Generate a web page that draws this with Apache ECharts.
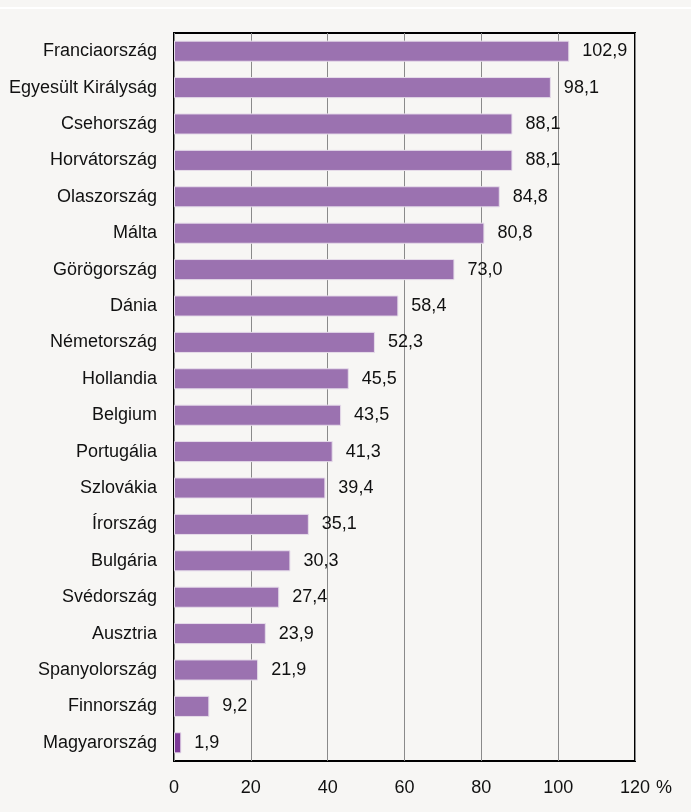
<!DOCTYPE html>
<html>
<head>
<meta charset="utf-8">
<script src="https://cdn.jsdelivr.net/npm/echarts@6/dist/echarts.min.js"></script>
<style>
  html, body { margin: 0; padding: 0; background: #f7f6f4; }
  #chart { width: 691px; height: 812px; }
</style>
</head>
<body>
<div id="chart"></div>
<script>
// országok, felülről lefelé
var countries = ['Franciaország', 'Egyesült Királyság', 'Csehország', 'Horvátország', 'Olaszország',
  'Málta', 'Görögország', 'Dánia', 'Németország', 'Hollandia', 'Belgium', 'Portugália',
  'Szlovákia', 'Írország', 'Bulgária', 'Svédország', 'Ausztria', 'Spanyolország',
  'Finnország', 'Magyarország'];
var values = [102.9, 98.1, 88.1, 88.1, 84.8, 80.8, 73.0, 58.4, 52.3, 45.5, 43.5, 41.3,
  39.4, 35.1, 30.3, 27.4, 23.9, 21.9, 9.2, 1.9];
var highlight = 'Magyarország';
var xTicks = [0, 20, 40, 60, 80, 100, 120];

var FONT = '"Liberation Sans Narrow", "Arial Narrow", "Liberation Sans", Arial, sans-serif';
var FS = 18;
var TXT = '#111';

var chart = echarts.init(document.getElementById('chart'));

var barData = values.map(function (v, i) {
  var item = { value: v };
  if (countries[i] === highlight) {
    item.itemStyle = { color: '#7d3a98' };
  }
  return item;
});

chart.setOption({
  backgroundColor: '#f7f6f4',
  animation: false,
  grid: {
    left: 174, right: 56, top: 33, bottom: 51,
    outerBoundsMode: 'none', containLabel: false,
    show: true, borderColor: '#000', borderWidth: 2
  },
  xAxis: {
    type: 'value',
    min: xTicks[0],
    max: xTicks[xTicks.length - 1],
    interval: 20,
    name: '%',
    nameLocation: 'end',
    nameGap: 20,
    nameTextStyle: { fontFamily: FONT, fontSize: FS, color: TXT, verticalAlign: 'top', padding: [18, 0, 0, 0] },
    axisLine: { show: false },
    axisTick: { show: false },
    axisLabel: { fontFamily: FONT, fontSize: FS, color: TXT, margin: 18 },
    splitLine: { show: true, lineStyle: { color: '#8a8a8a', width: 1 } }
  },
  yAxis: {
    type: 'category',
    data: countries,
    inverse: true,
    axisLine: { show: false },
    axisTick: { show: false },
    axisLabel: { fontFamily: FONT, fontSize: FS, color: TXT, margin: 17 }
  },
  series: [{
    type: 'bar',
    data: barData,
    barCategoryGap: '42%',
    itemStyle: { color: '#9b72b0', borderColor: '#e6dcea', borderWidth: 1 },
    label: {
      show: true,
      position: 'right',
      distance: 13,
      fontFamily: FONT,
      fontSize: FS,
      color: TXT,
      formatter: function (p) { return p.value.toFixed(1).replace('.', ','); }
    }
  }],
  graphic: [{
    type: 'rect',
    shape: { x: 0, y: 7, width: 691, height: 2 },
    style: { fill: '#ffffff' }
  }]
});
</script>
</body>
</html>
